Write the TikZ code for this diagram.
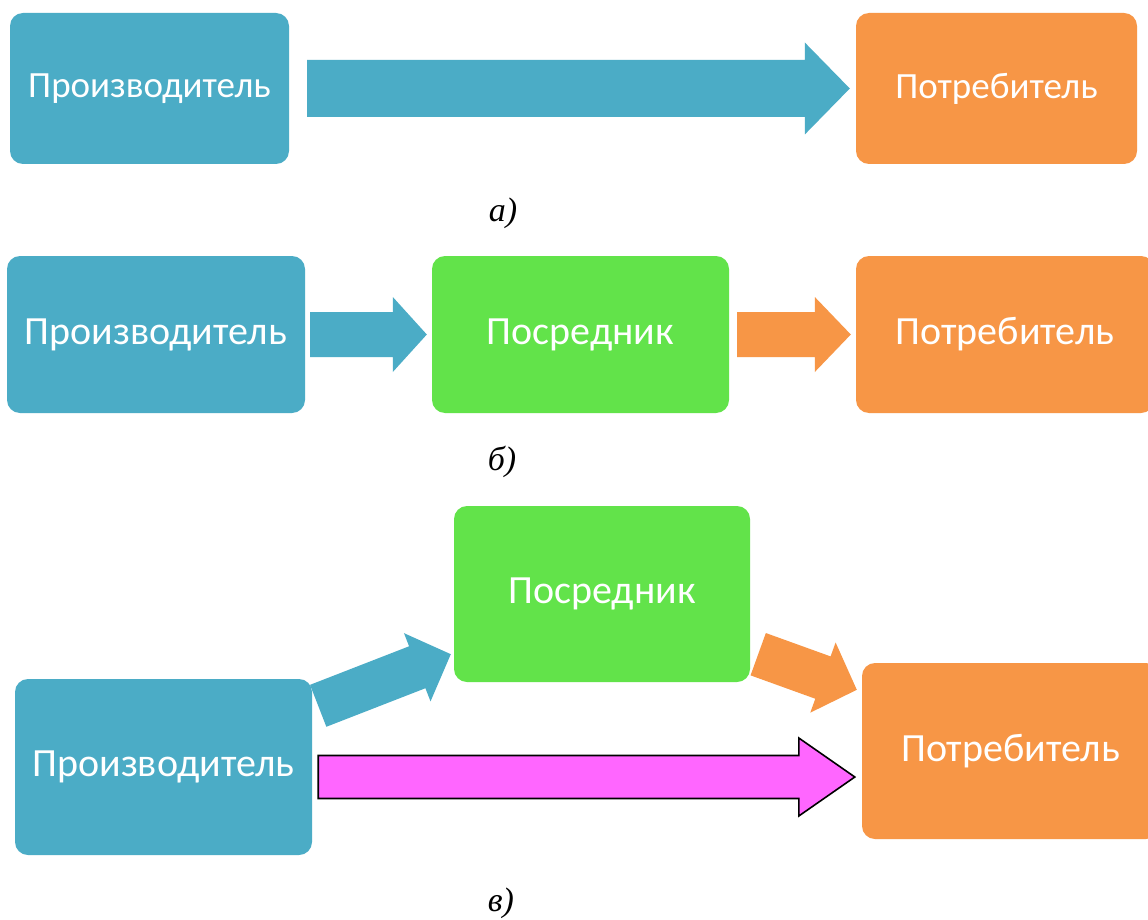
\documentclass[tikz,border=0pt]{standalone}
\usepackage{fontspec}
\setmainfont{Carlito}
\newfontfamily\capfont{Liberation Serif}
\usetikzlibrary{calc,backgrounds}

\definecolor{cblue}{HTML}{4BACC6}
\definecolor{corange}{HTML}{F79646}
\definecolor{cgreen}{HTML}{62E34A}
\definecolor{cpink}{HTML}{FF66FF}

% Block arrow from tail #2 to tip #3:
% #1 style, #4 shaft half-width, #5 head half-width, #6 head length
\newcommand\blockarrow[6]{%
  \coordinate (ba-h) at ($(#3)!#6!(#2)$);
  \path[#1] ($(#2)!#4!90:(#3)$) -- ($(ba-h)!#4!90:(#3)$)
    -- ($(ba-h)!#5!90:(#3)$) -- (#3)
    -- ($(ba-h)!#5!-90:(#3)$) -- ($(ba-h)!#4!-90:(#3)$)
    -- ($(#2)!#4!-90:(#3)$) -- cycle;
}

\tikzset{
  box/.style={rounded corners=13pt, inner sep=0pt, text=white, align=center},
  boxa/.style={box, font=\fontsize{37}{41}\selectfont},
  boxb/.style={box, font=\fontsize{40}{45}\selectfont},
  caption/.style={font=\capfont\itshape\fontsize{34}{38}\selectfont, inner sep=0pt},
}

\begin{document}
\begin{tikzpicture}[x=1pt, y=-1pt]
\clip (0,0) rectangle (1148,920);

% --- scheme a) : direct channel
\node[boxa, fill=cblue, minimum width=279pt, minimum height=151pt] (pa) at (149.5,88.5) {Производитель};
\node[boxa, fill=corange, minimum width=281pt, minimum height=151pt] (ca) at (996.5,88.5) {Потребитель};
\node[caption] (la) at (503,213) {а)};

% --- scheme b) : through an intermediary
\node[boxb, fill=cblue, minimum width=298pt, minimum height=157pt] (pb) at (156,334.5) {Производитель};
\node[boxb, fill=cgreen, minimum width=297pt, minimum height=157pt] (gb) at (580.5,334.5) {Посредник};
\node[boxb, fill=corange, minimum width=298pt, minimum height=157pt] (cb) at (1005,334.5) {Потребитель};
\node[caption] (lb) at (502,462) {б)};

% --- scheme c) : mixed channel
\node[boxb, fill=cgreen, minimum width=296pt, minimum height=176pt] (gc) at (602,594) {Посредник};
\node[boxb, fill=cblue, minimum width=297pt, minimum height=176pt] (pc) at (163.5,767) {Производитель};
\node[boxb, fill=corange, minimum width=297pt, minimum height=176pt] (cc) at (1010.5,751) {Потребитель};
\node[caption] (lc) at (501,903) {в)};

\begin{pgfonlayer}{background}
  \fill[white] (0,0) rectangle (1148,920);

  % a)
  \coordinate (a1) at ($(pa.east)+(18,0)$);
  \coordinate (a2) at ($(ca.west)+(-6,0)$);
  \blockarrow{fill=cblue}{a1}{a2}{28.5pt}{46pt}{45pt}

  % b)
  \coordinate (b1) at ($(pb.east)+(5,0)$);
  \coordinate (b2) at ($(gb.west)+(-5,0)$);
  \blockarrow{fill=cblue}{b1}{b2}{22.5pt}{37.5pt}{34pt}
  \coordinate (b3) at ($(gb.east)+(8,0)$);
  \coordinate (b4) at ($(cb.west)+(-5,0)$);
  \blockarrow{fill=corange}{b3}{b4}{22.5pt}{37.5pt}{36pt}

  % c)
  \coordinate (c1) at ($(pc.north east)+(6,27)$);
  \coordinate (c2) at ($(gc.south west)+(-3,-28)$);
  \blockarrow{fill=cblue}{c1}{c2}{22.5pt}{36.6pt}{36pt}
  \coordinate (c3) at ($(gc.south east)+(8,-28)$);
  \coordinate (c4) at ($(cc.north west)+(-5,27)$);
  \blockarrow{fill=corange}{c3}{c4}{22.5pt}{37.3pt}{36pt}
  \coordinate (c5) at ($(pc.east)+(6,10)$);
  \coordinate (c6) at ($(cc.west)+(-7,26)$);
  \blockarrow{fill=cpink, draw=black, line width=1.6pt}{c5}{c6}{21.5pt}{39pt}{56pt}
\end{pgfonlayer}
\end{tikzpicture}
\end{document}
